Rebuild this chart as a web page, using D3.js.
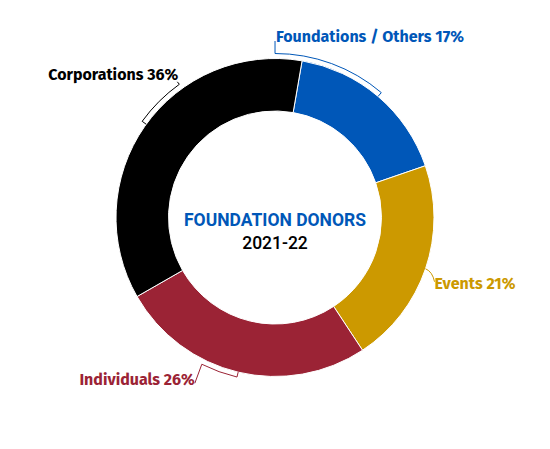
<!DOCTYPE html>
<html><head><meta charset="utf-8">
<script src="https://cdn.jsdelivr.net/npm/d3@7"></script>
<style>
html,body{margin:0;padding:0;background:#fff;}
text{font-family:"Fira Sans",Roboto,"Noto Sans",sans-serif;}
</style></head>
<body><svg id="chart" width="550" height="449"></svg>
<script>
const categories = ["Foundations / Others", "Events", "Individuals", "Corporations"];
const values = [17, 21, 26, 36];
const colors = ["#0057b8", "#cc9900", "#9b2335", "#000000"];
const centerTitle = "FOUNDATION DONORS";
const centerSub = "2021-22";

const W = 550, H = 449, cx = 275, cy = 217.5, rOut = 159, rIn = 106.5;
const svg = d3.select("#chart");
const g = svg.append("g").attr("transform", `translate(${cx},${cy})`);
const deg = Math.PI / 180;
const pie = d3.pie().sort(null).value(d => d).startAngle(9.8 * deg).endAngle(9.8 * deg + 2 * Math.PI);
const arcs = pie(values);
const arc = d3.arc().innerRadius(rIn).outerRadius(rOut);

g.selectAll("path.slice").data(arcs).join("path")
  .attr("class", "slice")
  .attr("d", arc)
  .attr("fill", (d, i) => colors[i])
  .attr("stroke", "#fff").attr("stroke-width", 1);

// label layout: bracket angles expressed relative to each slice (fraction of slice span)
const pt = (a, r) => [r * Math.sin(a), -r * Math.cos(a)];
const layout = [
  {f0: -0.16, f1: 0.50, lead: "up", anchor: "start", dx: 1, ty: 42 - cy},
  {f0: 0.50, f1: 0.50, lead: "curve", anchor: "start"},
  {f0: 0.64, f1: 0.50, lead: "diag", anchor: "end"},
  {f0: 0.649, f1: 0.507, lead: "hook", anchor: "end"}
];
const rB = 164;
arcs.forEach((d, i) => {
  const L = layout[i];
  const span = d.endAngle - d.startAngle;
  const a0 = d.startAngle + L.f0 * span, a1 = d.startAngle + L.f1 * span;
  const p0 = pt(a0, rB), p1 = pt(a1, rB);
  const pIn = pt(a1, rOut);
  const p = d3.path();
  let tx, ty;
  const label = categories[i] + " " + values[i] + "%";
  if (L.lead === "up") {
    tx = p0[0] + 1; ty = L.ty;
    p.moveTo(p0[0], ty - 1);
    p.lineTo(p0[0], p0[1]);
  } else if (L.lead === "curve") {
    const s = pt(a0, rOut);
    p.moveTo(s[0], s[1]);
    p.quadraticCurveTo(s[0] + 7, s[1] + 3, s[0] + 9, s[1] + 13);
    tx = s[0] + 9; ty = s[1] + 20;
    p.moveTo(p0[0], p0[1]);
  } else if (L.lead === "diag") {
    tx = p0[0] - 7; ty = p0[1] + 21;
    p.moveTo(p0[0] - 7, p0[1] + 19);
    p.lineTo(p0[0], p0[1]);
  } else {
    tx = p0[0] - 1; ty = p0[1] - 4.8;
    p.moveTo(p0[0] - 2, p0[1] - 2.5);
    p.lineTo(p0[0], p0[1]);
  }
  if (L.lead !== "curve") {
    const ccw = a1 < a0;
    p.arc(0, 0, rB, a0 - Math.PI / 2, a1 - Math.PI / 2, ccw);
    p.lineTo(pIn[0], pIn[1]);
  }
  g.append("path").attr("d", p.toString()).attr("fill", "none")
    .attr("stroke", colors[i]).attr("stroke-width", 1);
  g.append("text").attr("x", tx).attr("y", ty)
    .attr("text-anchor", L.anchor)
    .attr("font-size", 16).attr("font-weight", 700)
    .attr("fill", colors[i]).text(label);
});

g.append("text").attr("x", 0).attr("y", 226 - cy).attr("text-anchor", "middle")
  .style("font-family", "Roboto, sans-serif").attr("font-size", 17.5).attr("font-weight", 700)
  .attr("fill", colors[0]).text(centerTitle);
g.append("text").attr("x", 0).attr("y", 249 - cy).attr("text-anchor", "middle")
  .style("font-family", "Roboto, sans-serif").attr("font-size", 17.5).attr("font-weight", 500)
  .attr("fill", "#000").text(centerSub);
</script></body></html>
